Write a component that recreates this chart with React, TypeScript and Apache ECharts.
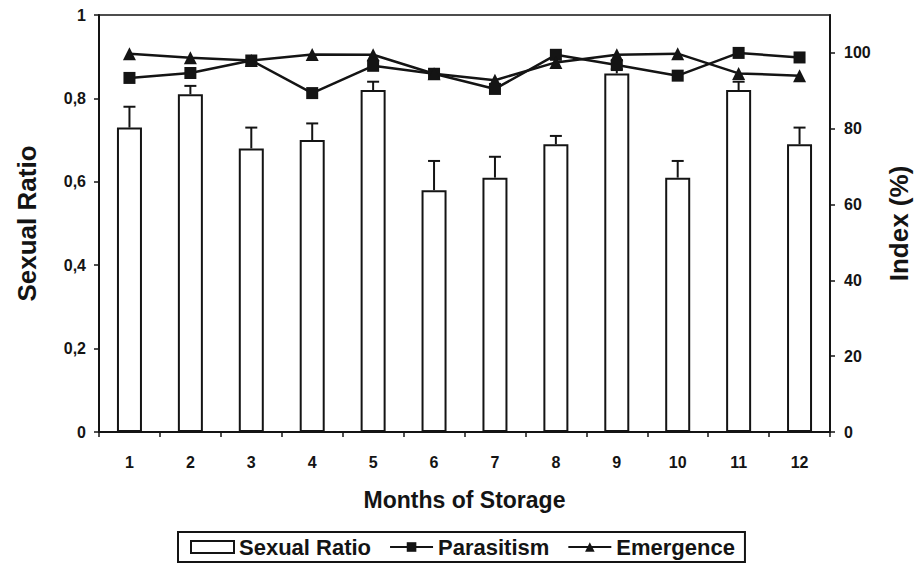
import React, { useEffect, useRef } from "react";
import * as echarts from "echarts";

const months = ["1", "2", "3", "4", "5", "6", "7", "8", "9", "10", "11", "12"];
const sexualRatio = [0.73, 0.81, 0.68, 0.70, 0.82, 0.58, 0.61, 0.69, 0.86, 0.61, 0.82, 0.69];
const sexualRatioErr = [0.05, 0.02, 0.05, 0.04, 0.02, 0.07, 0.05, 0.02, 0.01, 0.04, 0.02, 0.04];
const parasitism = [93.4, 94.7, 98, 89.4, 96.6, 94.5, 90.5, 99.5, 96.8, 94, 100, 98.8];
const emergence = [99.8, 98.7, 98, 99.6, 99.5, 94.5, 92.8, 97.5, 99.5, 99.8, 94.6, 94];
const rightTicks = [0, 20, 40, 60, 80, 100];

const FONT = "'Liberation Sans', Arial, sans-serif";
const INK = "#141414";

export default function App() {
  const ref = useRef<HTMLDivElement>(null);
  useEffect(() => {
    if (!ref.current) return;
    const chart = echarts.init(ref.current, undefined, { renderer: "svg" });
    const errData = months.map((_, i) => [i, sexualRatio[i], sexualRatio[i] + sexualRatioErr[i]]);
    chart.setOption({
      animation: false,
      backgroundColor: "#ffffff",
      textStyle: { fontFamily: FONT, color: INK },
      grid: {
        left: 99,
        right: 83,
        top: 15,
        bottom: 144,
        show: true,
        borderColor: INK,
        borderWidth: 1.5,
        containLabel: false,
      },
      legend: {
        bottom: 14,
        left: 178,
        data: [
          { name: "Sexual Ratio", icon: "rect" },
          { name: "Parasitism" },
          { name: "Emergence" },
        ],
        borderColor: INK,
        borderWidth: 2,
        padding: [4, 10, 4, 12],
        itemGap: 18,
        itemWidth: 43,
        itemHeight: 12,
        textStyle: { fontFamily: FONT, fontSize: 22, fontWeight: "bold", color: INK },
      },
      xAxis: {
        type: "category",
        data: months,
        name: "Months of Storage",
        nameLocation: "middle",
        nameGap: 56,
        nameTextStyle: { fontFamily: FONT, fontSize: 23, fontWeight: "bold", color: INK },
        axisLine: { lineStyle: { color: INK, width: 2 } },
        axisTick: { show: true, length: 5, lineStyle: { color: INK, width: 1.5 } },
        axisLabel: { fontFamily: FONT, fontSize: 16, fontWeight: "bold", color: INK, margin: 22 },
      },
      yAxis: [
        {
          type: "value",
          min: 0,
          max: 1,
          interval: 0.2,
          name: "Sexual Ratio",
          nameLocation: "middle",
          nameGap: 59,
          nameTextStyle: { fontFamily: FONT, fontSize: 26, fontWeight: "bold", color: INK },
          axisLine: { show: true, lineStyle: { color: INK, width: 2 } },
          axisTick: { show: true, length: 5, lineStyle: { color: INK, width: 1.5 } },
          splitLine: { show: false },
          axisLabel: {
            fontFamily: FONT,
            fontSize: 16,
            fontWeight: "bold",
            color: INK,
            margin: 13,
            formatter: (v: number) =>
              v === 0 ? "0" : v === 1 ? "1" : v.toFixed(1).replace(".", ","),
          },
        },
        {
          type: "value",
          min: 0,
          max: 110,
          interval: 20,
          position: "right",
          name: "Index (%)",
          nameLocation: "middle",
          nameGap: 56,
          nameRotate: 90,
          nameTextStyle: { fontFamily: FONT, fontSize: 26, fontWeight: "bold", color: INK },
          axisLine: { show: true, lineStyle: { color: INK, width: 2 } },
          axisTick: {
            show: true,
            length: 5,
            customValues: rightTicks,
            lineStyle: { color: INK, width: 1.5 },
          },
          splitLine: { show: false },
          axisLabel: {
            fontFamily: FONT,
            fontSize: 16,
            fontWeight: "bold",
            color: INK,
            margin: 14,
            customValues: rightTicks,
          },
        },
      ],
      series: [
        {
          name: "Sexual Ratio",
          type: "bar",
          yAxisIndex: 0,
          data: sexualRatio,
          barWidth: 25,
          itemStyle: { color: "#ffffff", borderColor: INK, borderWidth: 2 },
          z: 2,
        },
        {
          name: "err",
          type: "custom",
          yAxisIndex: 0,
          data: errData,
          z: 3,
          renderItem: (params: any, api: any) => {
            const x = api.value(0);
            const lo = api.coord([x, api.value(1)]);
            const hi = api.coord([x, api.value(2)]);
            const half = 6;
            return {
              type: "group",
              children: [
                {
                  type: "line",
                  shape: { x1: lo[0], y1: lo[1], x2: hi[0], y2: hi[1] },
                  style: { stroke: INK, lineWidth: 2 },
                },
                {
                  type: "line",
                  shape: { x1: hi[0] - half, y1: hi[1], x2: hi[0] + half, y2: hi[1] },
                  style: { stroke: INK, lineWidth: 2 },
                },
              ],
            };
          },
        },
        {
          name: "Parasitism",
          type: "line",
          yAxisIndex: 1,
          data: parasitism,
          symbol: "rect",
          symbolSize: 12,
          itemStyle: { color: INK },
          lineStyle: { color: INK, width: 2.5 },
          z: 5,
        },
        {
          name: "Emergence",
          type: "line",
          yAxisIndex: 1,
          data: emergence,
          symbol: "triangle",
          symbolSize: 13,
          itemStyle: { color: INK },
          lineStyle: { color: INK, width: 2.5 },
          z: 5,
        },
      ],
    });
    return () => chart.dispose();
  }, []);
  return (
    <div
      ref={ref}
      style={{ position: "fixed", left: 0, top: 0, width: 920, height: 576, background: "#fff" }}
    />
  );
}
